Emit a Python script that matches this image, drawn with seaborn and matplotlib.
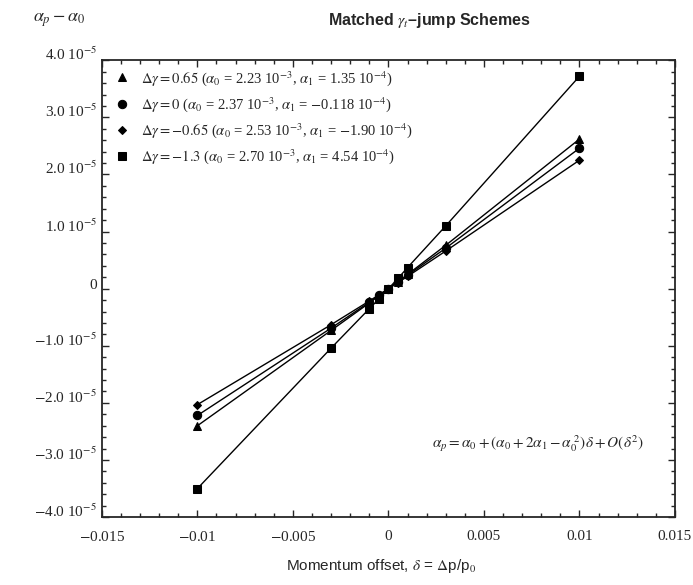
import matplotlib
matplotlib.use("Agg")
import matplotlib.pyplot as plt
from matplotlib.ticker import MultipleLocator, FixedLocator, FixedFormatter
import pandas as pd
import seaborn as sns

# ── data ───────────────────────────────────────────────────────────────────
delta = [-0.01, -0.003, -0.001, -0.0005, 0.0, 0.0005, 0.001, 0.003, 0.01]

dg_065 = [-2.40e-5, -7.3e-6, -2.5e-6, -1.25e-6, 0.0, 1.25e-6, 2.5e-6, 7.6e-6, 2.62e-5]
dg_0 = [-2.22e-5, -6.9e-6, -2.35e-6, -1.17e-6, 0.0, 1.17e-6, 2.35e-6, 7.1e-6, 2.46e-5]
dg_m065 = [-2.03e-5, -6.3e-6, -2.15e-6, -1.07e-6, 0.0, 1.07e-6, 2.15e-6, 6.6e-6, 2.25e-5]
dg_m13 = [-3.50e-5, -1.04e-5, -3.5e-6, -1.8e-6, 0.0, 1.8e-6, 3.7e-6, 1.10e-5, 3.72e-5]

labels = [
    r"$\Delta\gamma = 0.65$ ($\alpha_{0}$ = 2.23 10$^{-3}$, $\alpha_{1}$ = 1.35 10$^{-4}$)",
    r"$\Delta\gamma = 0$ ($\alpha_{0}$ = 2.37 10$^{-3}$, $\alpha_{1}$ = $-$0.118 10$^{-4}$)",
    r"$\Delta\gamma = -0.65$ ($\alpha_{0}$ = 2.53 10$^{-3}$, $\alpha_{1}$ = $-$1.90 10$^{-4}$)",
    r"$\Delta\gamma = -1.3$ ($\alpha_{0}$ = 2.70 10$^{-3}$, $\alpha_{1}$ = 4.54 10$^{-4}$)",
]
markers = ["^", "o", "D", "s"]
msizes = [5.5, 6, 4.5, 6]

y_ticks = [-4e-5, -3e-5, -2e-5, -1e-5, 0, 1e-5, 2e-5, 3e-5, 4e-5]
y_ticklabels = [r"$-$4.0 10$^{-5}$", r"$-$3.0 10$^{-5}$", r"$-$2.0 10$^{-5}$", r"$-$1.0 10$^{-5}$",
                "0", r"1.0 10$^{-5}$", r"2.0 10$^{-5}$", r"3.0 10$^{-5}$", r"4.0 10$^{-5}$"]
x_ticks = [-0.015, -0.01, -0.005, 0, 0.005, 0.01, 0.015]
x_ticklabels = [r"$-$0.015", r"$-$0.01", r"$-$0.005", "0", "0.005", "0.01", "0.015"]

sns.set_style("ticks")
plt.rcParams["font.family"] = ["Liberation Serif", "DejaVu Serif"]
plt.rcParams["mathtext.fontset"] = "stix"

fig = plt.figure(figsize=(6.93, 5.85), dpi=100)
ax = fig.add_axes([0.147, 0.116, 0.827, 0.781])

series = [dg_065, dg_0, dg_m065, dg_m13]
for vals, lab, mk, ms in zip(series, labels, markers, msizes):
    df = pd.DataFrame({"delta": delta, "dalpha": vals})
    sns.lineplot(data=df, x="delta", y="dalpha", ax=ax, color="black", linewidth=1.0,
                 marker=mk, markersize=ms, markeredgecolor="black", label=lab)

ax.set_xlim(-0.015, 0.015)
ax.set_ylim(-4e-5, 4e-5)
ax.xaxis.set_major_locator(FixedLocator(x_ticks))
ax.xaxis.set_major_formatter(FixedFormatter(x_ticklabels))
ax.yaxis.set_major_locator(FixedLocator(y_ticks))
ax.yaxis.set_major_formatter(FixedFormatter(y_ticklabels))
ax.xaxis.set_minor_locator(MultipleLocator(0.001))
ax.yaxis.set_minor_locator(MultipleLocator(2e-6))
ax.tick_params(which="both", direction="in", top=True, right=True, labelsize=11, width=1)
ax.tick_params(which="major", length=5)
ax.tick_params(which="minor", length=3)
ax.tick_params(axis="x", which="major", pad=9)
for sp in ax.spines.values():
    sp.set_linewidth(1.3)
# the reference sits its y labels a little above the ticks
plt.setp(ax.get_yticklabels(), va="baseline")

ax.set_xlabel("")
ax.set_ylabel("")
fig.text(0.55, 0.025, r"Momentum offset, $\delta$ = $\Delta$p/p$_{0}$", ha="center",
         fontsize=11, family=["Liberation Sans", "DejaVu Sans"])
fig.text(0.085, 0.965, r"$\alpha_{p} - \alpha_{0}$", ha="center", va="center", fontsize=13)
fig.text(0.62, 0.965, r"Matched $\gamma_{t}$–jump Schemes", ha="center", va="center",
         fontsize=11.5, fontweight="bold", family=["Liberation Sans", "DejaVu Sans"])
ax.text(0.0023, -2.72e-5,
        r"$\alpha_{p} = \alpha_{0} + (\alpha_{0} + 2\alpha_{1} - \alpha_{0}^{\ 2})\delta + O(\delta^{2})$",
        fontsize=11, ha="left", va="center")

leg = ax.legend(loc="upper left", bbox_to_anchor=(0.0, 1.01), frameon=False, fontsize=10.5,
                handlelength=1.0, handletextpad=0.8, labelspacing=0.5)
for h in leg.legend_handles:
    h.set_linestyle("none")

fig.savefig("out.png", dpi=100)
